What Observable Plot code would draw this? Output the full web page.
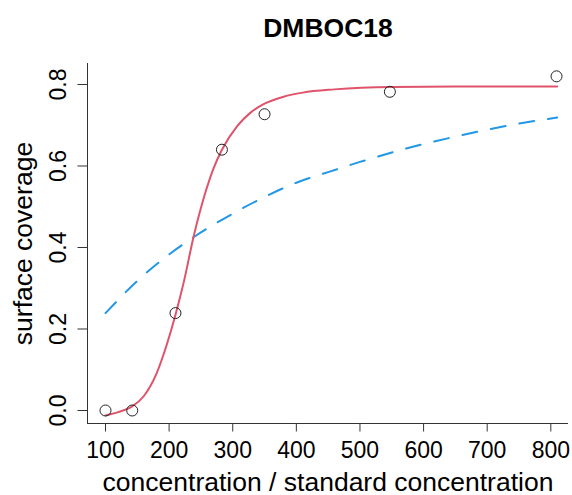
<!DOCTYPE html>
<html>
<head>
<meta charset="utf-8">
<script src="https://cdn.jsdelivr.net/npm/d3@7"></script>
<script src="https://cdn.jsdelivr.net/npm/@observablehq/plot@0.6"></script>
<style>
  html, body { margin: 0; padding: 0; background: white; }
  #chart { width: 572px; height: 495px; }
</style>
</head>
<body>
<div id="chart"></div>
<script>
// Observed data points
const obsX = [100, 142, 210, 283, 350, 547, 809];
const obsY = [0.0, 0.0, 0.239, 0.64, 0.727, 0.782, 0.82];

// Fitted sigmoid (red, solid)
const fitAX = [100, 120, 142, 160, 180, 197, 210, 223, 239, 257, 270, 283, 307, 328, 350, 380, 410, 460, 550, 650, 810];
const fitAY = [-0.012, -0.004, 0.01, 0.035, 0.09, 0.165, 0.235, 0.315, 0.43, 0.535, 0.595, 0.64, 0.698, 0.731, 0.753, 0.77, 0.78, 0.788, 0.794, 0.795, 0.795];

// Fitted curve (blue, dashed)
const fitBX = [100, 150, 200, 250, 300, 350, 400, 450, 500, 550, 600, 650, 700, 750, 810];
const fitBY = [0.239, 0.318, 0.383, 0.437, 0.483, 0.524, 0.559, 0.585, 0.610, 0.633, 0.654, 0.672, 0.689, 0.704, 0.719];

const xTicks = [100, 200, 300, 400, 500, 600, 700, 800];
const yTicks = [0.0, 0.2, 0.4, 0.6, 0.8];
const yTickLabels = ["0.0", "0.2", "0.4", "0.6", "0.8"];

const xDomain = [71.7, 827.8];
const yDomain = [-0.0319, 0.8515];

const titleText = "DMBOC18";
const xLabel = "concentration / standard concentration";
const yLabel = "surface coverage";

const obs = obsX.map((x, i) => ({x, y: obsY[i]}));
const fitA = fitAX.map((x, i) => ({x, y: fitAY[i]}));
const fitB = fitBX.map((x, i) => ({x, y: fitBY[i]}));
const yT = yTicks.map((y, i) => ({y, label: yTickLabels[i]}));

const axisColor = "#333";

const chart = Plot.plot({
  width: 572,
  height: 495,
  marginLeft: 87,
  marginRight: 4,
  marginTop: 63,
  marginBottom: 72,
  style: {fontFamily: "'Liberation Sans', Arial, Helvetica, sans-serif", background: "white", color: "black", overflow: "visible"},
  x: {domain: xDomain, axis: null},
  y: {domain: yDomain, axis: null},
  marks: [
    // L-shaped box
    Plot.ruleX([xDomain[0]], {stroke: axisColor, strokeWidth: 1}),
    Plot.ruleY([yDomain[0]], {stroke: axisColor, strokeWidth: 1}),
    // x axis ticks & labels
    Plot.axisX({ticks: xTicks, anchor: "bottom", tickSize: 8.5, tickPadding: 9.2, fontSize: 23, stroke: axisColor, fill: "black", label: null, tickFormat: d => String(d)}),
    // y axis ticks
    Plot.axisY({ticks: yTicks, anchor: "left", tickSize: 9.5, stroke: axisColor, label: null, tickFormat: () => ""}),
    // y tick labels rotated
    Plot.text(yT, {y: "y", text: "label", frameAnchor: "left", dx: -21.3, rotate: -90, textAnchor: "middle", lineAnchor: "bottom", fontSize: 23, fill: "black"}),
    // curves
    Plot.line(fitB, {x: "x", y: "y", stroke: "#2297E6", strokeWidth: 2, strokeDasharray: "15,14", curve: "monotone-x"}),
    Plot.line(fitA, {x: "x", y: "y", stroke: "#DF536B", strokeWidth: 2, curve: "monotone-x"}),
    // observed points
    Plot.dot(obs, {x: "x", y: "y", r: 5.5, fill: "none", stroke: "#222", strokeWidth: 1}),
    // title & labels
    Plot.text([titleText], {frameAnchor: "top", dy: -26.3, lineAnchor: "bottom", fontSize: 26.5, fontWeight: "bold", fill: "black"}),
    Plot.text([xLabel], {frameAnchor: "bottom", dy: 67, lineAnchor: "bottom", fontSize: 26.5, fill: "black"}),
    Plot.text([yLabel], {frameAnchor: "left", dx: -56, rotate: -90, textAnchor: "middle", lineAnchor: "bottom", fontSize: 26.5, fill: "black"})
  ]
});

document.getElementById("chart").appendChild(chart);
</script>
</body>
</html>
